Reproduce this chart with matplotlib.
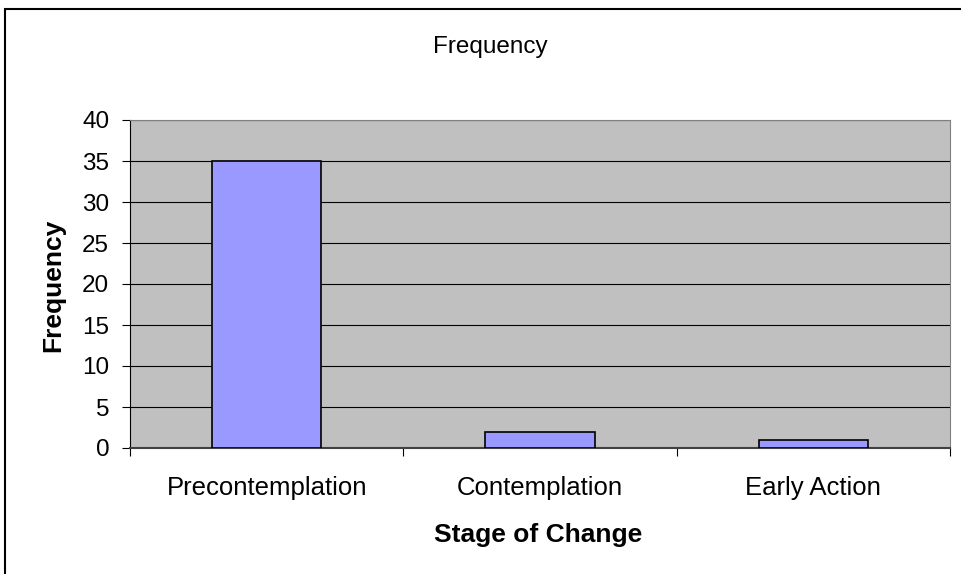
import matplotlib
matplotlib.use("Agg")
import matplotlib.pyplot as plt
from matplotlib.patches import Rectangle

stages = ["Precontemplation", "Contemplation", "Early Action"]
freq = [35, 2, 1]
yticks = [0, 5, 10, 15, 20, 25, 30, 35, 40]

plt.rcParams["font.family"] = ["Liberation Sans", "DejaVu Sans"]

W, H = 961, 574
fig = plt.figure(figsize=(W / 100, H / 100), dpi=100)

# outer chart border (runs off the right/bottom of the image)
fig.patches.append(Rectangle((5 / W, -0.05), 1.1, 1 - 9 / H + 0.05, transform=fig.transFigure,
                             fill=False, edgecolor="black", lw=1.5))

ax = fig.add_axes([130 / W, 1 - 448 / H, (950 - 130) / W, (448 - 120) / H])
ax.set_facecolor("#C0C0C0")
x = range(len(stages))
ax.bar(x, freq, width=0.4, color="#9999FF", edgecolor="black", lw=1.2, zorder=3)

ax.set_xlim(-0.5, len(stages) - 0.5)
ax.set_ylim(0, 40)
ax.set_yticks(yticks)
ax.yaxis.grid(True, color="black", lw=0.8, zorder=0)
ax.set_axisbelow(True)

ax.set_xticks(list(x))
ax.set_xticklabels(stages, fontsize=18.5)
ax.tick_params(axis="x", length=0, pad=20.5)
ax.set_xticks([i - 0.5 for i in range(len(stages) + 1)], minor=True)
ax.tick_params(axis="x", which="minor", length=6, color="black", width=0.8)
ax.tick_params(axis="y", labelsize=17.5, length=6, width=0.8, pad=9)

for s in ("top", "right"):
    ax.spines[s].set_color("#808080")
ax.spines["left"].set_color("black")
ax.spines["bottom"].set_color("#404040")
ax.spines["bottom"].set_linewidth(1.5)

fig.text(538 / W, 1 - 542 / H, "Stage of Change", fontsize=19, fontweight="bold",
         ha="center", va="baseline")
fig.text(53 / W, 1 - 285 / H, "Frequency", fontsize=19, fontweight="bold",
         ha="center", va="center", rotation=90)
fig.text(490 / W, 1 - 53 / H, "Frequency", fontsize=17.5, ha="center", va="baseline")

fig.savefig("out.png", dpi=100)
